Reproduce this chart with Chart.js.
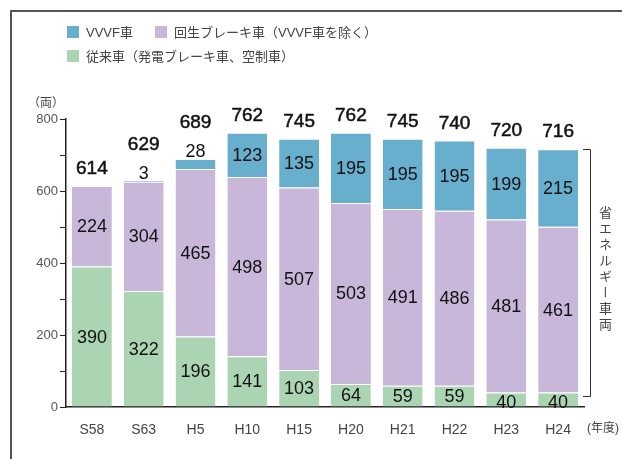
<!DOCTYPE html>
<html>
<head>
<meta charset="utf-8">
<script src="https://cdn.jsdelivr.net/npm/chart.js@4"></script>
<style>
  body { margin: 0; background: #fff; font-family: "Liberation Sans", "Noto Sans CJK JP", sans-serif; }
  #wrap { position: relative; width: 622px; height: 459px; overflow: hidden; }
  #frame { position: absolute; left: 10px; top: 10px; width: 700px; height: 500px;
           border-left: 2px solid #555; border-top: 2px solid #555; }
  canvas { position: absolute; left: 0; top: 0; }
  .lg { position: absolute; font-size: 13px; color: #444; white-space: nowrap; line-height: 16px; }
  .sw { display: inline-block; width: 12px; height: 12px; vertical-align: -1px; margin-right: 7px; }
  .note { position: absolute; font-size: 12px; color: #444; white-space: nowrap; }
  #vert { position: absolute; left: 596px; top: 206px; writing-mode: vertical-rl;
          font-size: 13px; letter-spacing: 3px; color: #444; font-family: "Noto Sans CJK JP", sans-serif; }
</style>
</head>
<body>
<div id="wrap">
  <div id="frame"></div>
  <canvas id="grafico" width="622" height="459"></canvas>
  <div class="lg" style="left:67px; top:25px;"><span class="sw" style="background:#67afcd"></span>VVVF車</div>
  <div class="lg" style="left:155px; top:25px;"><span class="sw" style="background:#c9b7da"></span>回生ブレーキ車（VVVF車を除く）</div>
  <div class="lg" style="left:67px; top:49px;"><span class="sw" style="background:#abd5b2"></span>従来車（発電ブレーキ車、空制車）</div>
  <div class="note" style="left:28px; top:93px;">（両）</div>
  <div class="note" style="left:587px; top:418px;">(年度)</div>
  <div id="vert">省エネルギー車両</div>
</div>
<script>
const categorias = ['S58', 'S63', 'H5', 'H10', 'H15', 'H20', 'H21', 'H22', 'H23', 'H24'];
const juraisha = [390, 322, 196, 141, 103, 64, 59, 59, 40, 40];
const kaisei = [224, 304, 465, 498, 507, 503, 491, 486, 481, 461];
const vvvf = [0, 3, 28, 123, 135, 195, 195, 195, 199, 215];
const totales = [614, 629, 689, 762, 745, 762, 745, 740, 720, 716];
const ticksY = [0, 200, 400, 600, 800];

const colores = { verde: '#abd5b2', morado: '#c9b7da', azul: '#67afcd' };
const fuente = '"Liberation Sans", Arial, sans-serif';

// etiquetas dentro de las barras, totales y el corchete de la derecha
const etiquetas = {
    id: 'etiquetas',
    afterDatasetsDraw(chart) {
        const ctx = chart.ctx;
        const yScale = chart.scales.y;
        const nds = chart.data.datasets.length;
        const arriba = categorias.map(() => null);
        ctx.save();
        ctx.textAlign = 'center';
        ctx.textBaseline = 'middle';
        ctx.fillStyle = '#111';
        ctx.font = '18px ' + fuente;
        chart.data.datasets.forEach((ds, di) => {
            const meta = chart.getDatasetMeta(di);
            meta.data.forEach((bar, i) => {
                const v = ds.data[i];
                if (!v) return;
                const h = bar.base - bar.y;
                if (h < 20 && di === nds - 1) {
                    // segmento superior muy fino: etiqueta encima
                    const ly = bar.y - 7;
                    ctx.fillText(String(v), bar.x, ly);
                    arriba[i] = ly;
                } else {
                    const cy = (bar.y + bar.base) / 2 + (h < 20 ? 3 : 1);
                    ctx.fillText(String(v), bar.x, cy);
                }
            });
        });
        ctx.font = '19px ' + fuente;
        ctx.strokeStyle = '#111';
        ctx.lineWidth = 0.5;
        totales.forEach((t, i) => {
            const x = chart.getDatasetMeta(0).data[i].x;
            const y = arriba[i] !== null ? arriba[i] - 29 : yScale.getPixelForValue(t) - 17;
            ctx.fillText(String(t), x, y);
            ctx.strokeText(String(t), x, y);
        });
        // corchete
        const n = categorias.length - 1;
        const ultimo = chart.getDatasetMeta(2).data[n];
        const bx = Math.round(ultimo.x + ultimo.width / 2 + 12);
        const top = Math.round(yScale.getPixelForValue(totales[n]));
        const bot = Math.round(yScale.getPixelForValue(juraisha[n]) + 3);
        ctx.strokeStyle = '#333';
        ctx.lineWidth = 1;
        ctx.beginPath();
        ctx.moveTo(bx - 7, top + 0.5);
        ctx.lineTo(bx + 0.5, top + 0.5);
        ctx.lineTo(bx + 0.5, bot + 0.5);
        ctx.lineTo(bx - 7, bot + 0.5);
        ctx.stroke();
        ctx.restore();
    }
};

new Chart(document.getElementById('grafico').getContext('2d'), {
    type: 'bar',
    data: {
        labels: categorias,
        datasets: [
            { label: '従来車（発電ブレーキ車、空制車）', data: juraisha, backgroundColor: colores.verde },
            { label: '回生ブレーキ車（VVVF車を除く）', data: kaisei, backgroundColor: colores.morado },
            { label: 'VVVF車', data: vvvf, backgroundColor: colores.azul }
        ].map(d => Object.assign(d, {
            borderColor: '#ffffff',
            borderWidth: { top: 1, bottom: 0, left: 0, right: 0 },
            borderSkipped: false,
            barPercentage: 0.77,
            categoryPercentage: 1
        }))
    },
    options: {
        responsive: false,
        animation: false,
        layout: { padding: { left: 0, top: 119, right: 38, bottom: 17 } },
        plugins: {
            legend: { display: false },
            tooltip: { enabled: false }
        },
        scales: {
            x: {
                stacked: true,
                afterFit: (s) => { s.height = 35; },
                grid: { display: false },
                border: { display: true, color: '#222', width: 1.5 },
                ticks: { color: '#444', padding: 7, font: { size: 14, family: fuente } }
            },
            y: {
                stacked: true,
                min: 0,
                max: 800,
                afterFit: (s) => { s.width = 66; },
                border: { display: true, color: '#222', width: 1.5 },
                grid: { display: true, drawOnChartArea: false, drawTicks: true, tickLength: 6, color: '#222' },
                ticks: {
                    stepSize: 100,
                    color: '#555',
                    padding: 2,
                    font: { size: 13, family: fuente },
                    callback: (v) => ticksY.includes(v) ? v : ''
                }
            }
        }
    },
    plugins: [etiquetas]
});
</script>
</body>
</html>
